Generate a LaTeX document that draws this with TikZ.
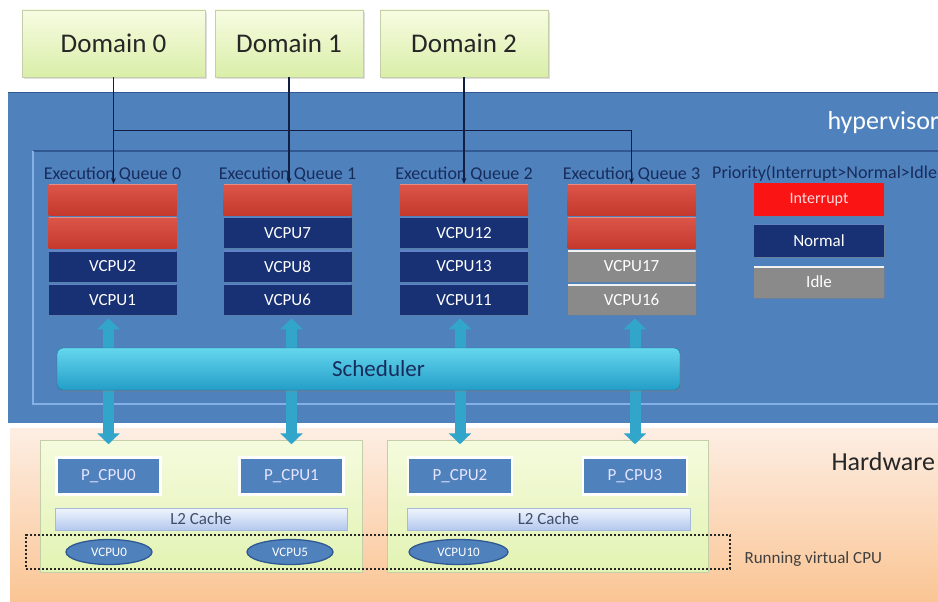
\documentclass[tikz,border=0pt]{standalone}
\usepackage{fontspec}
\setmainfont{Carlito}
\usepackage{tikz}
\usetikzlibrary{arrows.meta, positioning, shapes.geometric, shadows}
\definecolor{hvblue}{RGB}{79,129,189}
\definecolor{hvdark}{RGB}{50,88,146}
\definecolor{hvlight}{RGB}{132,176,230}
\definecolor{qnavy}{RGB}{24,48,116}
\definecolor{qnavytop}{RGB}{96,130,196}
\definecolor{qred}{RGB}{214,62,48}
\definecolor{qgrey}{RGB}{138,138,138}
\definecolor{irqred}{RGB}{250,20,20}
\definecolor{labnavy}{RGB}{24,44,92}
\definecolor{domtop}{RGB}{247,252,226}
\definecolor{dombot}{RGB}{218,238,168}
\definecolor{domedge}{RGB}{196,206,168}
\definecolor{hwtop}{RGB}{253,238,228}
\definecolor{hwbot}{RGB}{250,196,146}
\definecolor{cltop}{RGB}{245,251,222}
\definecolor{clbot}{RGB}{226,243,178}
\definecolor{cachetop}{RGB}{240,245,253}
\definecolor{cachebot}{RGB}{180,200,238}
\definecolor{buscyan}{RGB}{50,166,202}
\definecolor{schedtop}{RGB}{100,214,238}
\definecolor{schedbot}{RGB}{36,158,200}
\definecolor{linkdark}{RGB}{18,30,66}
\tikzset{
  dombox/.style={rectangle, draw=domedge, top color=domtop, bottom color=dombot,
    minimum height=67pt, inner sep=0pt, text=black!85,
    font=\fontsize{27}{30}\selectfont,
    drop shadow={opacity=0.25, shadow xshift=1.5pt, shadow yshift=-2pt}},
  qlabel/.style={inner sep=0pt, text=labnavy, font=\fontsize{18}{20}\selectfont},
  qrow/.style={rectangle, minimum width=128pt, minimum height=31pt, inner sep=0pt,
    text=white, font=\fontsize{17}{19}\selectfont,
    drop shadow={opacity=0.3, shadow xshift=1pt, shadow yshift=-1pt}},
  redrow/.style={qrow, top color=qred!88!white, bottom color=qred!92!black,
    path picture={\draw[qred!60!white, line width=2pt] (path picture bounding box.north west)
      -- (path picture bounding box.north east);}},
  navyrow/.style={qrow, fill=qnavy,
    path picture={\draw[qnavytop, line width=2pt] (path picture bounding box.north west)
      -- (path picture bounding box.north east);}},
  greyrow/.style={qrow, fill=qgrey,
    path picture={\draw[white!90!gray, line width=3pt] (path picture bounding box.north west)
      -- (path picture bounding box.north east);}},
  legbox/.style={qrow, minimum width=130pt, font=\fontsize{16}{18}\selectfont},
  link/.style={draw=linkdark, line width=1.2pt, -{Stealth[length=6pt, width=5pt]}},
  cluster/.style={rectangle, draw=domedge, top color=cltop, bottom color=clbot,
    minimum height=132pt, inner sep=0pt},
  pcpu/.style={rectangle, fill=hvblue, draw=white, line width=2.5pt,
    minimum width=104pt, minimum height=37pt, inner sep=0pt,
    text=white!90!blue, font=\fontsize{17}{19}\selectfont,
    drop shadow={opacity=0.2, shadow xshift=1pt, shadow yshift=-1pt}},
  cache/.style={rectangle, top color=cachetop, bottom color=cachebot, draw=cachebot!80!gray,
    minimum height=22pt, inner sep=0pt, text=labnavy!60!gray,
    font=\fontsize{17}{19}\selectfont},
  vcpu/.style={ellipse, fill=hvblue, draw=hvdark, line width=1.3pt,
    minimum width=86pt, minimum height=25pt, inner sep=0pt,
    text=white, font=\fontsize{13}{15}\selectfont},
  bus/.style={draw=buscyan, line width=11pt,
    {Triangle[width=22pt, length=11pt]}-{Triangle[width=22pt, length=11pt]}},
  sched/.style={rectangle, rounded corners=6pt, top color=schedtop, bottom color=schedbot,
    draw=schedbot!75!black, minimum width=623pt, minimum height=42pt, inner sep=0pt,
    text=labnavy, font=\fontsize{23}{25}\selectfont,
    drop shadow={opacity=0.3, shadow xshift=1.5pt, shadow yshift=-2pt}},
  runbox/.style={rectangle, draw=black!85, line width=2.4pt, dash pattern=on 2.4pt off 1.6pt,
    minimum width=704pt, minimum height=34pt}
}
\begin{document}
\begin{tikzpicture}[x=1pt, y=-1pt]
  \path[use as bounding box, fill=white] (0,0) rectangle (938,602);

  % Hardware and hypervisor layers
  \shade[top color=hwtop, bottom color=hwbot] (10,428) rectangle (945,605);
  \fill[hvblue] (8,93) rectangle (945,423);
  \draw[hvdark, line width=1pt] (8,93) -- (945,93);
  \draw[hvdark, line width=1.2pt] (945,151) -- (33,151);
  \draw[hvlight, line width=2pt] (33,151) -- (33,404) -- (945,404);
  \node[anchor=west, text=white, font=\fontsize{26}{28}\selectfont] at (824,123) {hypervisor};
  \node[anchor=west, text=black!85, font=\fontsize{26}{28}\selectfont] at (828,462) {Hardware};

  % Guest domains
  \node[dombox, minimum width=183pt] (d0) at (113.5,43.5) {Domain 0};
  \node[dombox, minimum width=148pt] (d1) at (289,43.5) {Domain 1};
  \node[dombox, minimum width=168pt] (d2) at (464,43.5) {Domain 2};

  % Execution queues
  \node[redrow] (q0a) at (112.5,199.5) {};
  \node[redrow, below=2pt of q0a] (q0b) {};
  \node[navyrow, below=2pt of q0b] (q0c) {VCPU2};
  \node[navyrow, below=2pt of q0c] (q0d) {VCPU1};
  \node[qlabel, above=2pt of q0a] {Execution Queue 0};

  \node[redrow] (q1a) at (287.5,199.5) {};
  \node[navyrow, below=2pt of q1a] (q1b) {VCPU7};
  \node[navyrow, below=2pt of q1b] (q1c) {VCPU8};
  \node[navyrow, below=2pt of q1c] (q1d) {VCPU6};
  \node[qlabel, above=2pt of q1a] {Execution Queue 1};

  \node[redrow] (q2a) at (464,199.5) {};
  \node[navyrow, below=2pt of q2a] (q2b) {VCPU12};
  \node[navyrow, below=2pt of q2b] (q2c) {VCPU13};
  \node[navyrow, below=2pt of q2c] (q2d) {VCPU11};
  \node[qlabel, above=2pt of q2a] {Execution Queue 2};

  \node[redrow] (q3a) at (631.5,199.5) {};
  \node[redrow, below=2pt of q3a] (q3b) {};
  \node[greyrow, below=2pt of q3b] (q3c) {VCPU17};
  \node[greyrow, below=2pt of q3c] (q3d) {VCPU16};
  \node[qlabel, above=2pt of q3a] {Execution Queue 3};

  % Domain links
  \path (d0.south) ++(0,53) coordinate (split);
  \draw[link] (d0.south) -- (d0.south |- q0a.north);
  \draw[link] (split) -| (q3a.north);
  \draw[link] (d1.south) -- (d1.south |- q1a.north);
  \draw[link] (d2.south) -- (d2.south |- q2a.north);

  % Priority legend
  \node[qlabel, anchor=base west] at (712,178) {Priority(Interrupt>Normal>Idle};
  \node[legbox, fill=irqred, minimum height=33pt, text=white!85!red] (irq) at (819,199.5) {Interrupt};
  \node[legbox, navyrow, minimum width=130pt, minimum height=33pt] (norm) at (819,240.5) {Normal};
  \node[legbox, greyrow, minimum width=130pt, minimum height=32pt] (idle) at (819,282) {Idle};

  % Physical CPUs
  \node[cluster, minimum width=322pt] (cl0) at (201,506) {};
  \node[cluster, minimum width=321pt] (cl1) at (547.5,506) {};
  \node[pcpu] (pc0) at (108.5,476) {P\_CPU0};
  \node[pcpu] (pc1) at (291.5,476) {P\_CPU1};
  \node[pcpu] (pc2) at (460,476) {P\_CPU2};
  \node[pcpu] (pc3) at (635,476) {P\_CPU3};
  \node[cache, minimum width=292pt] (l2a) at (201,519) {L2 Cache};
  \node[cache, minimum width=283pt] (l2b) at (548.5,519) {L2 Cache};

  % Scheduler paths
  \draw[bus, shorten <=3pt, shorten >=12pt] (q0d.south -| pc0.north) -- (pc0.north);
  \draw[bus, shorten <=3pt, shorten >=12pt] (q1d.south -| pc1.north) -- (pc1.north);
  \draw[bus, shorten <=3pt, shorten >=12pt] (q2d.south -| pc2.north) -- (pc2.north);
  \draw[bus, shorten <=3pt, shorten >=12pt] (q3d.south -| pc3.north) -- (pc3.north);
  \node[sched] (sched) at (368.5,369) {\hspace{20pt}Scheduler};

  % Running virtual CPUs
  \node[runbox] (run) at (378,552) {};
  \node[vcpu] (v0) at (109,552) {VCPU0};
  \node[vcpu] (v5) at (290,552) {VCPU5};
  \node[vcpu, minimum width=99pt] (v10) at (458.5,552) {VCPU10};
  \node[anchor=west, text=black!75, font=\fontsize{17}{19}\selectfont] at (741,559) {Running virtual CPU};
\end{tikzpicture}
\end{document}
